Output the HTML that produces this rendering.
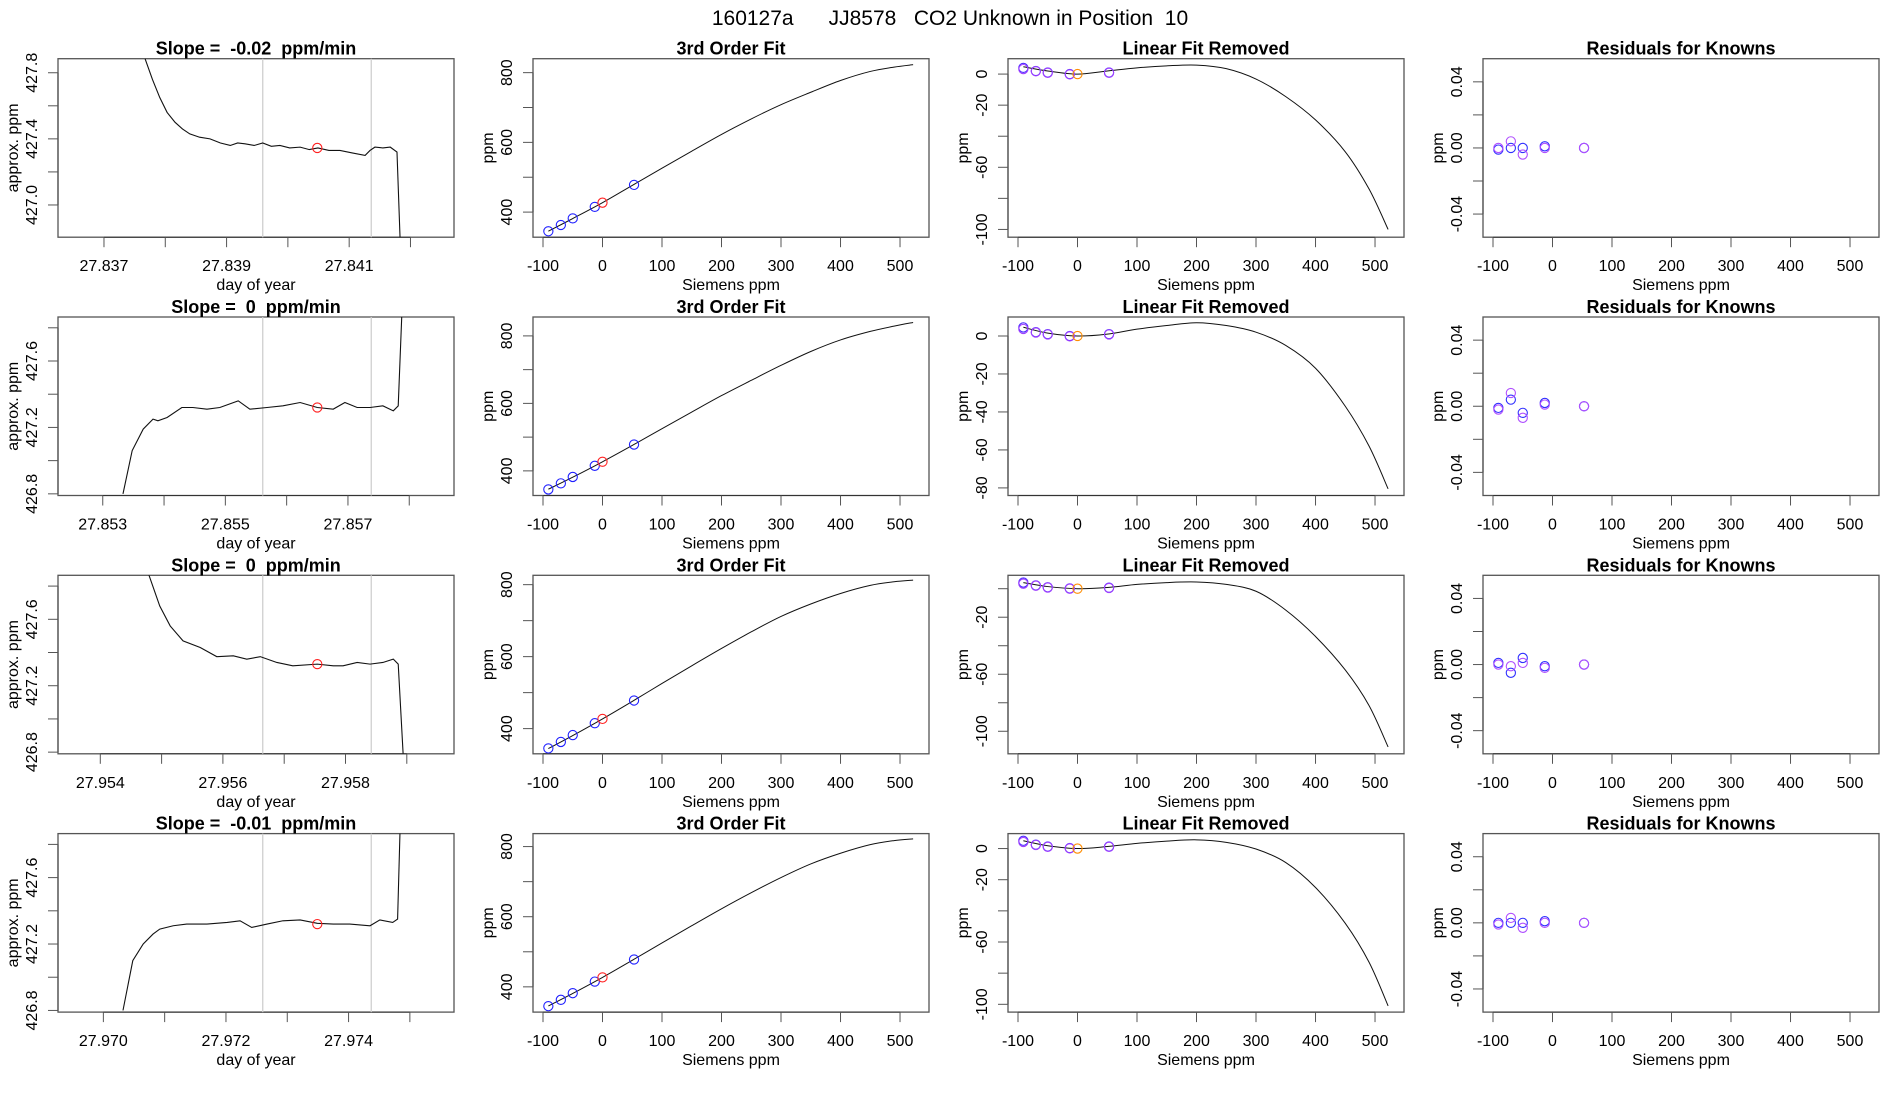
<!DOCTYPE html>
<html><head><meta charset="utf-8"><style>
html,body{margin:0;padding:0;background:#fff;}
svg{display:block;font-family:"Liberation Sans",Arial,sans-serif;}
text{white-space:pre;}
</style></head><body>
<svg id="fig" width="1900" height="1100" viewBox="0 0 1900 1100" xmlns="http://www.w3.org/2000/svg" xml:space="preserve">
<rect width="1900" height="1100" fill="#fff"/>
<text x="950" y="25" text-anchor="middle" font-size="21" fill="#000" xml:space="preserve">160127a      JJ8578   CO2 Unknown in Position  10</text>
</svg>
<script>
// ---------- data ----------
const slopeLabels = ["-0.02", "0", "0", "-0.01"];
const timeXlim = [[27.83625, 27.84271], [27.85227, 27.85873], [27.95331, 27.95977], [27.96926, 27.97572]];
const timeTicks = [[27.837,27.838,27.839,27.840,27.841,27.842],[27.853,27.854,27.855,27.856,27.857,27.858],[27.954,27.955,27.956,27.957,27.958,27.959],[27.970,27.971,27.972,27.973,27.974,27.975]];
const timeTickLabels = [["27.837","","27.839","","27.841",""],["27.853","","27.855","","27.857",""],["27.954","","27.956","","27.958",""],["27.970","","27.972","","27.974",""]];
const concYlim = [[426.805, 427.885], [426.79, 427.865], [426.79, 427.865], [426.79, 427.865]];
const concTicks = [[427.0,427.2,427.4,427.6,427.8],[426.8,427.0,427.2,427.4,427.6,427.8],[426.8,427.0,427.2,427.4,427.6,427.8],[426.8,427.0,427.2,427.4,427.6,427.8]];
const concTickLabels = [["427.0","","427.4","","427.8"],["426.8","","427.2","","427.6",""],["426.8","","427.2","","427.6",""],["426.8","","427.2","","427.6",""]];
const traceT1 = [27.83767,27.83779,27.83791,27.83803,27.83816,27.83828,27.83840,27.83856,27.83873,27.83890,27.83906,27.83918,27.83930,27.83945,27.83959,27.83973,27.83987,27.84003,27.84020,27.84035,27.84049,27.84067,27.84085,27.84105,27.84126,27.84134,27.84142,27.84155,27.84167,27.84178,27.84183];
const traceV1 = [427.885,427.76,427.65,427.56,427.50,427.46,427.43,427.41,427.40,427.375,427.36,427.375,427.37,427.36,427.375,427.355,427.36,427.345,427.35,427.335,427.345,427.33,427.33,427.315,427.30,427.33,427.35,427.345,427.35,427.32,426.8];
const traceT2 = [27.85333,27.85348,27.85366,27.85382,27.8539,27.85405,27.85429,27.85447,27.8547,27.85491,27.85521,27.8554,27.85568,27.85594,27.85622,27.8565,27.85676,27.85695,27.85715,27.85736,27.85757,27.85774,27.85782,27.85788];
const traceV2 = [426.8,427.06,427.19,427.25,427.24,427.26,427.32,427.32,427.31,427.32,427.36,427.31,427.32,427.33,427.35,427.32,427.31,427.35,427.32,427.32,427.33,427.30,427.33,427.89];
const traceT3 = [27.95479,27.95497,27.95514,27.95535,27.95563,27.9559,27.95617,27.95639,27.95661,27.95688,27.95714,27.95754,27.9578,27.95796,27.95819,27.9584,27.95861,27.95878,27.95886,27.95894];
const traceV3 = [427.87,427.68,427.56,427.47,427.43,427.375,427.38,427.36,427.375,427.34,427.32,427.33,427.32,427.32,427.34,427.33,427.34,427.36,427.33,426.79];
const traceT4 = [27.97032,27.97048,27.97065,27.97081,27.97092,27.97114,27.97136,27.97169,27.97202,27.97223,27.97242,27.97267,27.97293,27.97321,27.97349,27.97375,27.97402,27.97435,27.97451,27.97472,27.9748,27.97484];
const traceV4 = [426.8,427.10,427.20,427.26,427.29,427.31,427.32,427.32,427.33,427.34,427.30,427.32,427.34,427.345,427.325,427.32,427.32,427.31,427.345,427.33,427.35,427.89];
const windowStart = [27.83959, 27.85561, 27.95665, 27.9726];
const windowEnd = [27.84136, 27.85738, 27.95842, 27.97437];
const meanT = [27.84048, 27.8565, 27.95754, 27.97349];
const meanV = [427.345, 427.32, 427.33, 427.32];

const sieXlim = [-116.8, 548.7];
const sieTicks = [-100,0,100,200,300,400,500];
const fitYlim = [[328,840],[327,856],[330,826],[328,837]];
const fitTicks = [400,500,600,700,800];
const fitTickLabels = ["400","","600","","800"];
const curveX = [-91,-50,0,50,100,150,200,250,300,350,400,450,490,522];
const fitY1 = [345.3,381.5,427,476.5,526,574.8,622.8,667.3,708.1,743.7,777.5,803.5,816,822.9];
const fitY2 = [345.6,381.2,427,475.3,525.1,574.3,623,668.3,712.7,753.8,788,813.3,829,839.8];
const fitY3 = [344.4,380.7,427,475.6,525.5,574.6,622.7,668.8,711.7,746.3,775.5,798,808,812.5];
const fitY4 = [345.5,381.3,427,475.8,525.3,574.3,622.6,668.5,711.7,750.5,781,805.5,817,821.9];
const knownX = [-91,-70,-50,-13,53];
const knownY = [345,363,382,415,478];
const unknownX = 0;
const unknownY = 427;

const resYlim = [[-105,9.9],[-84,10],[-115.8,9.4],[-105,9.6]];
const resTicks = [[0,-20,-40,-60,-80,-100],[0,-20,-40,-60,-80],[0,-20,-40,-60,-80,-100],[0,-20,-40,-60,-80,-100]];
const resTickLabels = [["0","-20","","-60","","-100"],["0","-20","-40","-60","-80"],["","-20","","-60","","-100"],["0","-20","","-60","","-100"]];
const resCurve1 = [4.7,2,0,2,4,5.3,5.8,3.5,-3.2,-14.5,-29.5,-50,-74,-100];
const resCurve2 = [4.6,1.5,0,1,3.6,5.5,7,5.5,2,-5,-17,-37,-58,-80.5];
const resCurve3 = [4.3,1.5,0,0.8,3,4.3,4.7,3,-1.8,-15,-33.5,-57,-82,-111];
const resCurve4 = [5,1.8,0,1.3,3.3,4.8,5.6,4,-0.3,-9,-25,-48,-73,-101];
const knownRes1 = [4,2,1,0,1];
const knownRes2 = [4.5,2,1,0,1];
const knownRes3 = [4.3,2.3,1,0.2,0.7];
const knownRes4 = [5,2.5,1.3,0.3,1.3];

const knResYlim = [-0.054, 0.054];
const knResTicks = [-0.04,-0.02,0,0.02,0.04];
const knResTickLabels = ["-0.04","","0.00","","0.04"];
const knResBlue1 = [-0.001,0,0,0.001,0];
const knResPurple1 = [0,0.004,-0.004,0,0];
const knResBlue2 = [-0.001,0.004,-0.004,0.002,0];
const knResPurple2 = [-0.002,0.008,-0.007,0.001,0];
const knResBlue3 = [0.001,-0.005,0.004,-0.001,0];
const knResPurple3 = [0,-0.001,0.001,-0.002,0];
const knResBlue4 = [0,0,0,0.001,0];
const knResPurple4 = [-0.001,0.003,-0.003,0,0];

// ---------- drawing ----------
const NS = "http://www.w3.org/2000/svg";
const svg = document.getElementById("fig");
const traceT = [traceT1, traceT2, traceT3, traceT4];
const traceV = [traceV1, traceV2, traceV3, traceV4];
const fitY = [fitY1, fitY2, fitY3, fitY4];
const resCurve = [resCurve1, resCurve2, resCurve3, resCurve4];
const knownRes = [knownRes1, knownRes2, knownRes3, knownRes4];
const knResBlue = [knResBlue1, knResBlue2, knResBlue3, knResBlue4];
const knResPurple = [knResPurple1, knResPurple2, knResPurple3, knResPurple4];

function mk(tag, attrs, parent) {
  const e = document.createElementNS(NS, tag);
  for (const k in attrs) e.setAttribute(k, attrs[k]);
  (parent || svg).appendChild(e);
  return e;
}
function scale(d0, d1, r0, r1) { return v => r0 + (v - d0) / (d1 - d0) * (r1 - r0); }
function smoothPath(pts) {
  let d = "M" + pts[0][0].toFixed(2) + "," + pts[0][1].toFixed(2);
  for (let i = 0; i < pts.length - 1; i++) {
    const p0 = pts[Math.max(0, i - 1)], p1 = pts[i], p2 = pts[i + 1], p3 = pts[Math.min(pts.length - 1, i + 2)];
    const c1 = [p1[0] + (p2[0] - p0[0]) / 6, p1[1] + (p2[1] - p0[1]) / 6];
    const c2 = [p2[0] - (p3[0] - p1[0]) / 6, p2[1] - (p3[1] - p1[1]) / 6];
    d += " C" + c1.map(v => v.toFixed(2)).join(",") + " " + c2.map(v => v.toFixed(2)).join(",") + " " + p2[0].toFixed(2) + "," + p2[1].toFixed(2);
  }
  return d;
}

const BW = 396, BH = 178.5, TOP0 = 58.7, ROWSTEP = 258.3;
function panel(col, row, title, xlim, ylim, xticks, xlabels, yticks, ylabels, xlab, ylab) {
  const L = 58 + 475 * col, T = TOP0 + ROWSTEP * row, R = L + BW, B = T + BH;
  const g = mk("g", {});
  
  
  const sx = scale(xlim[0], xlim[1], L, R), sy = scale(ylim[0], ylim[1], B, T);
  const cid = "clip" + row + "_" + col;
  const cp = mk("clipPath", { id: cid }, g);
  mk("rect", { x: L, y: T, width: BW, height: BH }, cp);
  const box = mk("rect", { x: L, y: T, width: BW, height: BH, fill: "none", stroke: "#555", "stroke-width": 1.3 }, g);
  
  
  const t = mk("text", { x: (L + R) / 2, y: T - 4, "text-anchor": "middle", "font-size": 18, "font-weight": "bold" }, g);
  t.textContent = title;
  
  
  const xa = mk("line", { x1: sx(xticks[0]), x2: sx(xticks[xticks.length - 1]), y1: B, y2: B, stroke: "#333", "stroke-width": 1 }, g);
  
  
  xticks.forEach((v, i) => {
    const tk = mk("line", { x1: sx(v), x2: sx(v), y1: B, y2: B + 10, stroke: "#555", "stroke-width": 1 }, g);
    
    
    if (xlabels[i]) {
      const tl = mk("text", { x: sx(v), y: B + 34, "text-anchor": "middle", "font-size": 16 }, g);
      tl.textContent = xlabels[i];
      
      
    }
  });
  const xl = mk("text", { x: (L + R) / 2, y: B + 53, "text-anchor": "middle", "font-size": 16 }, g);
  xl.textContent = xlab;
  
  
  const ya = mk("line", { x1: L, x2: L, y1: sy(yticks[0]), y2: sy(yticks[yticks.length - 1]), stroke: "#333", "stroke-width": 1 }, g);
  
  
  yticks.forEach((v, i) => {
    const tk = mk("line", { x1: L - 10, x2: L, y1: sy(v), y2: sy(v), stroke: "#555", "stroke-width": 1 }, g);
    
    
    if (ylabels[i]) {
      const x = L - 21, y = sy(v);
      const tl = mk("text", { x: x, y: y, "text-anchor": "middle", "font-size": 16, transform: "rotate(-90 " + x + " " + y + ")" }, g);
      tl.textContent = ylabels[i];
      
      
    }
  });
  const yx = L - 40, yy = (T + B) / 2;
  const yl = mk("text", { x: yx, y: yy, "text-anchor": "middle", "font-size": 16, transform: "rotate(-90 " + yx + " " + yy + ")" }, g);
  yl.textContent = ylab;
  
  
  const plot = mk("g", { "clip-path": "url(#" + cid + ")" }, g);
  
  
  return { sx, sy, plot };
}
function circle(parent, x, y, color, name) {
  const c = mk("circle", { cx: x, cy: y, r: 4.6, fill: "none", stroke: color, "stroke-width": 1.1 }, parent);
  
  
  return c;
}

for (let r = 0; r < 4; r++) {
  const p1 = panel(0, r, "Slope =  " + slopeLabels[r] + "  ppm/min", timeXlim[r], concYlim[r], timeTicks[r], timeTickLabels[r], concTicks[r], concTickLabels[r], "day of year", "approx. ppm");
  [windowStart[r], windowEnd[r]].forEach(v => {
    const gl = mk("line", { x1: p1.sx(v), x2: p1.sx(v), y1: 0, y2: 1100, stroke: "#cfcfcf", "stroke-width": 1.3 }, p1.plot);
    
    
  });
  const tr = mk("polyline", { fill: "none", stroke: "#111", "stroke-width": 1.1, points: traceT[r].map((t, i) => p1.sx(t).toFixed(2) + "," + p1.sy(traceV[r][i]).toFixed(2)).join(" ") }, p1.plot);
  
  
  circle(p1.plot, p1.sx(meanT[r]), p1.sy(meanV[r]), "#ff2020", "mean-point");

  const p2 = panel(1, r, "3rd Order Fit", sieXlim, fitYlim[r], sieTicks, sieTicks.map(String), fitTicks, fitTickLabels, "Siemens ppm", "ppm");
  const fc = mk("path", { fill: "none", stroke: "#111", "stroke-width": 1, d: smoothPath(curveX.map((x, i) => [p2.sx(x), p2.sy(fitY[r][i])])) }, p2.plot);
  
  
  knownX.forEach((x, i) => circle(p2.plot, p2.sx(x), p2.sy(knownY[i]), "#2020ff", "known-point"));
  circle(p2.plot, p2.sx(unknownX), p2.sy(unknownY), "#ff2020", "unknown-point");

  const p3 = panel(2, r, "Linear Fit Removed", sieXlim, resYlim[r], sieTicks, sieTicks.map(String), resTicks[r], resTickLabels[r], "Siemens ppm", "ppm");
  const rc = mk("path", { fill: "none", stroke: "#111", "stroke-width": 1, d: smoothPath(curveX.map((x, i) => [p3.sx(x), p3.sy(resCurve[r][i])])) }, p3.plot);
  
  
  knownX.forEach((x, i) => {
    circle(p3.plot, p3.sx(x), p3.sy(knownRes[r][i]), "#4a2cff", "known-residual-point");
    circle(p3.plot, p3.sx(x), p3.sy(knownRes[r][i] - (i === 0 ? 0.8 : 0.2)), "#a040ff", "known-residual-point-alt");
  });
  circle(p3.plot, p3.sx(unknownX), p3.sy(0), "#ff8c00", "unknown-residual-point");

  const p4 = panel(3, r, "Residuals for Knowns", sieXlim, knResYlim, sieTicks, sieTicks.map(String), knResTicks, knResTickLabels, "Siemens ppm", "ppm");
  knownX.forEach((x, i) => {
    circle(p4.plot, p4.sx(x), p4.sy(knResBlue[r][i]), "#3030ff", "residual-blue");
    circle(p4.plot, p4.sx(x), p4.sy(knResPurple[r][i]), "#b050ff", "residual-purple");
  });
}
</script>
</body></html>
